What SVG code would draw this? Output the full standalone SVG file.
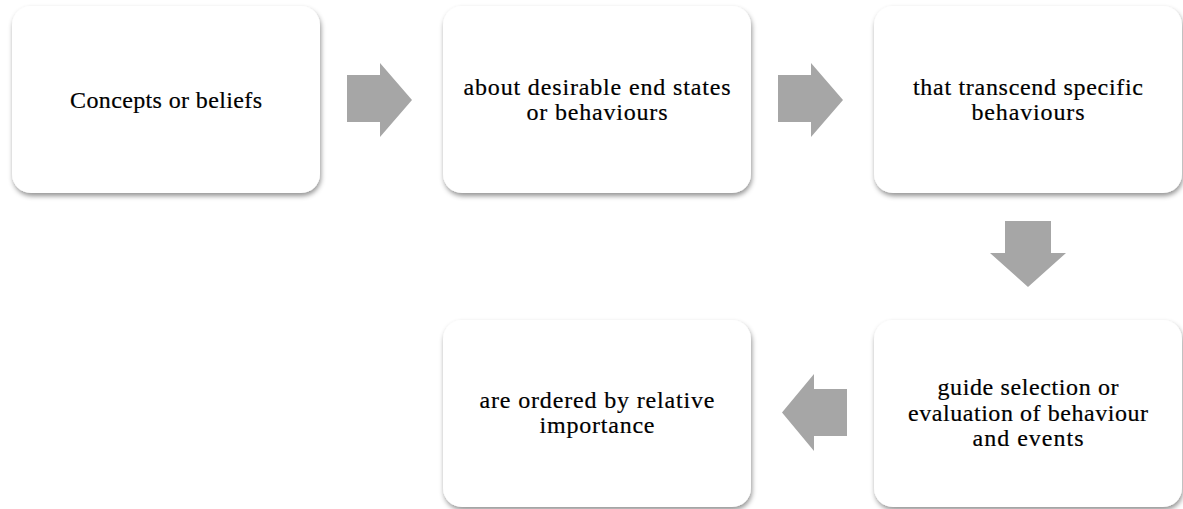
<svg xmlns="http://www.w3.org/2000/svg" width="1183" height="509" viewBox="0 0 1183 509">
  <defs>
    <filter id="shadow" x="-10%" y="-10%" width="125%" height="130%">
      <feDropShadow dx="1" dy="3" stdDeviation="2.5" flood-color="#000" flood-opacity="0.42"/>
    </filter>
  </defs>
  <style>
    .box { fill: #ffffff; filter: url(#shadow); }
    .label { font-family: "Liberation Serif", "Times New Roman", serif; font-size: 24px; fill: #000000; stroke: #000000; stroke-width: 0.2; text-anchor: middle; }
    .arrow { fill: #a6a6a6; }
  </style>
  <rect width="1183" height="509" fill="#ffffff"/>

  <!-- block arrows between steps -->
  <g id="connectors">
    <polygon class="arrow" points="347,75 380,75 380,63 412,100 380,137 380,122 347,122"/>
    <polygon class="arrow" points="778,75 811,75 811,63 843,100 811,137 811,122 778,122"/>
    <polygon class="arrow" points="1005,221 1051,221 1051,253 1066,253 1028,287 990,253 1005,253"/>
    <polygon class="arrow" points="847,389 847,436 814,436 814,451 782,412.5 814,374 814,389"/>
  </g>

  <g id="node-concepts">
    <rect class="box" x="12" y="6" width="308" height="187" rx="19"/>
    <text class="label" x="166" y="108" textLength="192">Concepts or beliefs</text>
  </g>

  <g id="node-end-states">
    <rect class="box" x="443" y="6" width="308" height="187" rx="19"/>
    <text class="label" x="597" y="94.5" textLength="267">about desirable end states</text>
    <text class="label" x="597" y="119.5" textLength="141">or behaviours</text>
  </g>

  <g id="node-transcend">
    <rect class="box" x="874" y="6" width="308" height="187" rx="19"/>
    <text class="label" x="1028" y="94.5" textLength="230">that transcend specific</text>
    <text class="label" x="1028" y="119.5" textLength="113">behaviours</text>
  </g>

  <g id="node-guide">
    <rect class="box" x="874" y="320" width="308" height="187" rx="19"/>
    <text class="label" x="1028" y="395" textLength="181">guide selection or</text>
    <text class="label" x="1028" y="420.5" textLength="240">evaluation of behaviour</text>
    <text class="label" x="1028" y="446" textLength="111">and events</text>
  </g>

  <g id="node-ordered">
    <rect class="box" x="443" y="320" width="308" height="187" rx="19"/>
    <text class="label" x="597" y="408" textLength="235">are ordered by relative</text>
    <text class="label" x="597" y="433" textLength="115">importance</text>
  </g>
</svg>
